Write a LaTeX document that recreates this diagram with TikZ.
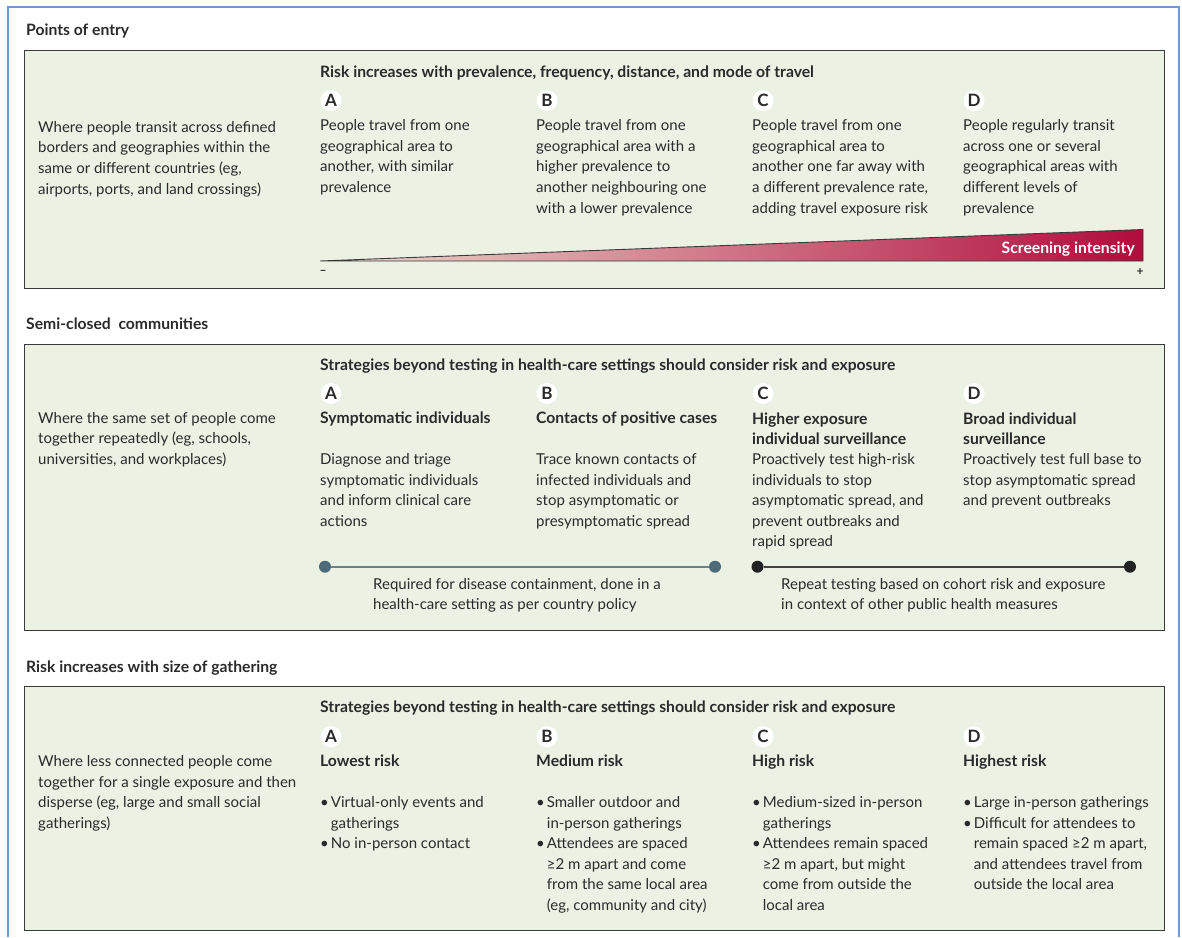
\documentclass[tikz,border=0pt]{standalone}
\usepackage{fontspec}
\setmainfont{Lato}
\usepackage{tikz}
\usetikzlibrary{calc}
\usetikzlibrary{shapes}
\usetikzlibrary{positioning}
\definecolor{framebl}{HTML}{6C9BD2}
\definecolor{panelfill}{HTML}{EBF2E4}
\definecolor{panelline}{HTML}{3A3A3A}
\definecolor{ink}{HTML}{2A2A2A}
\definecolor{wedgelow}{HTML}{EDDCD0}
\definecolor{wedgemid}{HTML}{CF7D76}
\definecolor{wedgehigh}{HTML}{B00C3C}
\definecolor{barblue}{HTML}{4C6A7A}
\definecolor{barblack}{HTML}{222222}
\newcommand{\bul}{\textbullet\kern2pt}
\newcommand{\bulind}{\hphantom{\bul}}
\tikzstyle{frame} = [draw=framebl, line width=1.5pt]
\tikzstyle{panel} = [draw=panelline, fill=panelfill, line width=1.1pt, rectangle,
    anchor=north west, inner sep=0pt]
\tikzstyle{section} = [anchor=base west, inner sep=0pt, text=ink,
    font=\bfseries\fontsize{15.7}{20.6}\selectfont]
\tikzstyle{letter} = [circle, fill=white, inner sep=0pt, minimum size=21pt, text=ink,
    font=\bfseries\fontsize{17}{17}\selectfont]
% first line of a text block sits a fixed step under the node top
\tikzstyle{body} = [anchor=north west, inner sep=0pt, align=left, text=ink,
    font=\fontsize{15}{20.6}\selectfont, execute at begin node={\rule{0pt}{15pt}}]
\tikzstyle{title} = [body, font=\bfseries\fontsize{15.7}{20.6}\selectfont]
\tikzstyle{dot} = [circle, inner sep=0pt, minimum size=12pt]
\begin{document}
\begin{tikzpicture}[x=1pt, y=-1pt]
    % page size and the open blue frame round the figure
    \useasboundingbox (0,0) rectangle (1182,937);
    \draw [frame] (8,937) |- (1179,7) -- (1179,937);

    % Points of entry
    \node [section] (entryHead) at (26,35.5) {Points of entry};
    \node [panel, minimum width=1140pt, minimum height=238pt] (entry) at (24,50) {};
    \node [body] (entryWhere) at (38,121) {Where people transit across defined\\
        borders and geographies within the\\same or different countries (eg,\\
        airports, ports, and land crossings)};
    \node [section] (entryRisk) at (320,77.5)
        {Risk increases with prevalence, frequency, distance, and mode of travel};
    \node [letter] (entryLA) at (331,100.7) {A};
    \node [letter] (entryLB) at (547,100.7) {B};
    \node [letter] (entryLC) at (763,100.7) {C};
    \node [letter] (entryLD) at (974,100.7) {D};
    \node [body] (entryA) at (320,119.5) {People travel from one\\geographical area to\\
        another, with similar\\prevalence};
    \node [body] (entryB) at (536,119.5) {People travel from one\\geographical area with a\\
        higher prevalence to\\another neighbouring one\\with a lower prevalence};
    \node [body] (entryC) at (752,119.5) {People travel from one\\geographical area to\\
        another one far away with\\a different prevalence rate,\\adding travel exposure risk};
    \node [body] (entryD) at (963,119.5) {People regularly transit\\across one or several\\
        geographical areas with\\different levels of\\prevalence};
    % the wedge grows with screening intensity
    \coordinate (wedgeL) at (320,261);
    \coordinate (wedgeT) at (1143,229.5);
    \coordinate (wedgeR) at (1143,261);
    \shade [left color=wedgelow, middle color=wedgemid, right color=wedgehigh]
        (wedgeL) -- (wedgeT) -- (wedgeR) -- cycle;
    \draw [panelline, line width=0.9pt] (wedgeL) -- (wedgeT) -- (wedgeR) -- cycle;
    \node [anchor=base east, inner sep=0pt, text=white,
        font=\bfseries\fontsize{15.7}{15.7}\selectfont] (screening) at (1135,253.5)
        {Screening intensity};
    \node [inner sep=0pt, text=ink, font=\bfseries\fontsize{12}{12}\selectfont]
        (minus) at (323,272.5) {\textendash};
    \node [inner sep=0pt, text=ink, font=\bfseries\fontsize{12}{12}\selectfont]
        (plus) at (1140,271.5) {+};

    % Semi-closed communities
    \node [section] (semiHead) at (26,329) {Semi-closed\ \ communities};
    \node [panel, minimum width=1140pt, minimum height=285.5pt] (semi) at (24,344) {};
    \node [body] (semiWhere) at (38,412) {Where the same set of people come\\
        together repeatedly (eg, schools,\\universities, and workplaces)};
    \node [section] (semiStrat) at (320,370.5) {Strategies beyond testing in
        health-care settings should consider risk and exposure};
    \node [letter] (semiLA) at (331,393.5) {A};
    \node [letter] (semiLB) at (547,393.5) {B};
    \node [letter] (semiLC) at (763,393.5) {C};
    \node [letter] (semiLD) at (974,393.5) {D};
    % one-line titles take the full first-line step
    \node [title] (semiTA) at (320,408.3) {Symptomatic individuals};
    \node [title] (semiTB) at (536,408.3) {Contacts of positive cases};
    \node [title] (semiTC) at (752,412.5) {Higher exposure\\individual surveillance};
    \node [title] (semiTD) at (963,412.5) {Broad individual\\surveillance};
    \node [body] (semiA) at (320,453.2) {Diagnose and triage\\symptomatic individuals\\
        and inform clinical care\\actions};
    \node [body] (semiB) at (536,453.2) {Trace known contacts of\\infected individuals and\\
        stop asymptomatic or\\presymptomatic spread};
    \node [body] (semiC) at (752,453.2) {Proactively test high-risk\\individuals to stop\\
        asymptomatic spread, and\\prevent outbreaks and\\rapid spread};
    \node [body] (semiD) at (963,453.2) {Proactively test full base to\\
        stop asymptomatic spread\\and prevent outbreaks};
    % the two testing ranges
    \node [dot, fill=barblue] (reqL) at (325,566.7) {};
    \node [dot, fill=barblue] (reqR) at (715,566.7) {};
    \draw [barblue!85, line width=1.6pt] (reqL) -- (reqR);
    \node [dot, fill=barblack] (repL) at (757.5,566.7) {};
    \node [dot, fill=barblack] (repR) at (1130,566.7) {};
    \draw [barblack!85, line width=1.6pt] (repL) -- (repR);
    \node [body] (reqText) at (373,578) {Required for disease containment, done in a\\
        health-care setting as per country policy};
    \node [body] (repText) at (781,578) {Repeat testing based on cohort risk and exposure\\
        in context of other public health measures};

    % Risk increases with size of gathering
    \node [section] (gathHead) at (26,672.5) {Risk increases with size of gathering};
    \node [panel, minimum width=1140pt, minimum height=244pt] (gath) at (24,685.7) {};
    \node [body] (gathWhere) at (38,755.5) {Where less connected people come\\
        together for a single exposure and then\\disperse (eg, large and small social\\
        gatherings)};
    \node [section] (gathStrat) at (320,712.5) {Strategies beyond testing in
        health-care settings should consider risk and exposure};
    \node [letter] (gathLA) at (331,736.7) {A};
    \node [letter] (gathLB) at (547,736.7) {B};
    \node [letter] (gathLC) at (763,736.7) {C};
    \node [letter] (gathLD) at (974,736.7) {D};
    \node [title] (gathTA) at (320,751.3) {Lowest risk};
    \node [title] (gathTB) at (536,751.3) {Medium risk};
    \node [title] (gathTC) at (752,751.3) {High risk};
    \node [title] (gathTD) at (963,751.3) {Highest risk};
    \node [body] (gathA) at (320,796.3) {\bul Virtual-only events and\\
        \bulind gatherings\\\bul No in-person contact};
    \node [body] (gathB) at (536,796.3) {\bul Smaller outdoor and\\
        \bulind in-person gatherings\\\bul Attendees are spaced\\
        \bulind ≥2 m apart and come\\\bulind from the same local area\\
        \bulind (eg, community and city)};
    \node [body] (gathC) at (752,796.3) {\bul Medium-sized in-person\\
        \bulind gatherings\\\bul Attendees remain spaced\\
        \bulind ≥2 m apart, but might\\\bulind come from outside the\\
        \bulind local area};
    \node [body] (gathD) at (963,796.3) {\bul Large in-person gatherings\\
        \bul Difficult for attendees to\\\bulind remain spaced ≥2 m apart,\\
        \bulind and attendees travel from\\\bulind outside the local area};
\end{tikzpicture}
\end{document}
